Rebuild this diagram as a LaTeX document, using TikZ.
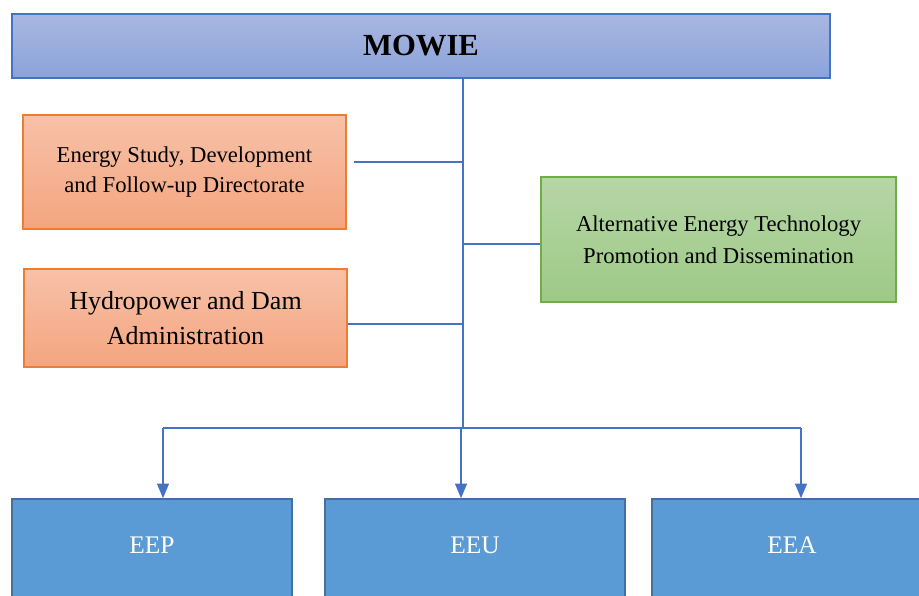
\documentclass[tikz,border=0pt]{standalone}
\usepackage{fontspec}
\setmainfont{Liberation Serif}
\usetikzlibrary{arrows.meta}

\definecolor{linkblue}{RGB}{68,114,196}
\definecolor{headtop}{RGB}{169,183,225}
\definecolor{headbot}{RGB}{139,163,217}
\definecolor{orgtop}{RGB}{247,193,168}
\definecolor{orgbot}{RGB}{244,165,127}
\definecolor{orgline}{RGB}{237,125,49}
\definecolor{grntop}{RGB}{182,214,166}
\definecolor{grnbot}{RGB}{157,201,134}
\definecolor{grnline}{RGB}{112,173,71}
\definecolor{unitfill}{RGB}{91,155,213}
\definecolor{unitline}{RGB}{65,113,156}

\tikzset{every picture/.style={line width=0.75pt}}
\tikzset{
  link/.style={draw=linkblue, line width=1pt},
  downlink/.style={link, -{Triangle[length=11pt,width=9pt]}},
  headbox/.style={draw=linkblue, line width=1pt, top color=headtop, bottom color=headbot,
    font=\fontsize{23}{27}\selectfont\bfseries},
  dirbox/.style={draw=orgline, line width=1pt, top color=orgtop, bottom color=orgbot,
    align=center, minimum width=242.25pt},
  altbox/.style={draw=grnline, line width=1pt, top color=grntop, bottom color=grnbot,
    align=center, font=\fontsize{17}{24}\selectfont},
  unitbox/.style={draw=unitline, line width=1.2pt, fill=unitfill, text=white,
    minimum height=79.5pt, text height=13pt, text depth=10.5pt,
    font=\fontsize{19}{23}\selectfont}
}

\begin{document}
\begin{tikzpicture}[x=0.75pt,y=0.75pt,yscale=-1,xscale=1]
\clip (0,0) rectangle (919,595);

% Ministry
\node[headbox, minimum width=613.5pt, minimum height=48pt] (mowie) at (421,46) {MOWIE};

% Directorates
\node[dirbox, minimum height=85.5pt, font=\fontsize{17}{23}\selectfont] (esd) at (184.5,172)
  {Energy Study, Development\\and Follow-up Directorate};
\node[dirbox, minimum height=73.5pt, font=\fontsize{19.5}{26}\selectfont] (hydro) at (185.5,318)
  {Hydropower and Dam\\Administration};
\node[altbox, minimum width=266.25pt, minimum height=93.75pt] (aet) at (718.5,239.5)
  {Alternative Energy Technology\\Promotion and Dissemination};

% Agencies
\node[unitbox, minimum width=210pt] (eep) at (152,552) {EEP};
\node[unitbox, minimum width=225pt] (eeu) at (475,552) {EEU};
\node[unitbox, minimum width=210pt] (eea) at (792,552) {EEA};

% Trunk and branches
\coordinate (jn) at (463,428);
\draw[link] (mowie.south -| jn) -- (jn);
\draw[link] ([xshift=5.25pt,yshift=-7.5pt]esd.east) -- ([yshift=-7.5pt]esd.east -| jn);
\draw[link] ([yshift=4.5pt]hydro.east) -- ([yshift=4.5pt]hydro.east -| jn);
\draw[link] ([yshift=3.4pt]aet.west -| jn) -- ([yshift=3.4pt]aet.west);

% Arrows to agencies
\draw[link] ([xshift=8.25pt]eep.north |- jn) -- ([xshift=6.75pt]eea.north |- jn);
\draw[downlink] ([xshift=8.25pt]eep.north |- jn) -- ([xshift=8.25pt]eep.north);
\draw[downlink] ([xshift=-10.5pt]eeu.north |- jn) -- ([xshift=-10.5pt]eeu.north);
\draw[downlink] ([xshift=6.75pt]eea.north |- jn) -- ([xshift=6.75pt]eea.north);

\end{tikzpicture}
\end{document}
